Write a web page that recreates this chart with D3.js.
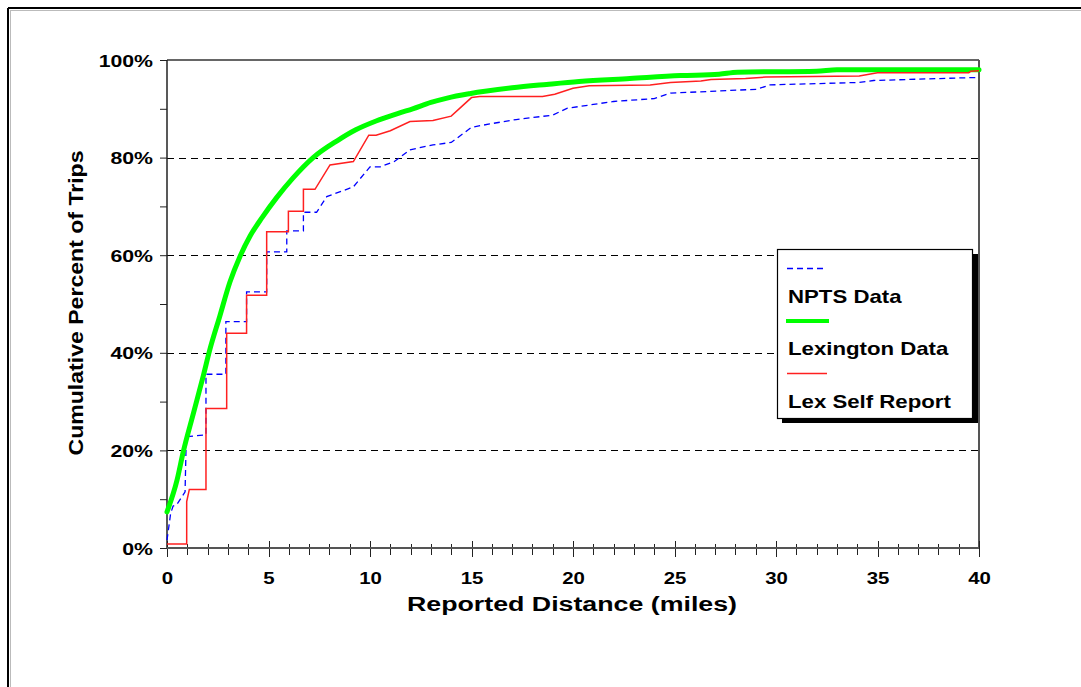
<!DOCTYPE html>
<html>
<head>
<meta charset="utf-8">
<script src="https://cdn.jsdelivr.net/npm/d3@7"></script>
<style>
  html, body { margin: 0; padding: 0; background: #fff; }
  svg { display: block; }
  text { font-family: "Liberation Sans", Arial, sans-serif; font-weight: bold; fill: #000; }
</style>
</head>
<body>
<svg id="chart" width="1081" height="687"></svg>
<script>
// ---- data (miles, cumulative percent) ----
const npts_miles = [0,0.18,0.3,0.47,0.89,0.95,1.92,1.92,2.9,2.9,3.92,3.92,4.91,4.91,5.9,5.9,6.72,6.72,7.37,7.87,9.18,10.0,10.5,11.2,11.97,13.1,14.0,15.0,15.9,17.2,19.0,19.7,22.0,24.0,24.8,25.3,29.05,29.7,34.1,34.8,39.7,40];
const npts_pct   = [1.6,7.1,8.6,8.8,11.5,22.8,23.2,35.6,35.6,46.4,46.4,52.5,52.5,60.7,60.7,65,65,68.8,68.8,72.0,74.0,78.1,78.1,79.2,81.6,82.6,83.1,86.2,86.9,87.8,88.7,90.1,91.5,92.1,93.2,93.3,94.0,94.9,95.4,95.8,96.4,96.4];

const lex_miles = [0,0.5,0.8,1.3,1.8,2.1,2.6,3.1,3.6,4.1,4.7,5.4,6.2,7.2,8.4,9.3,10.3,11.5,12.1,13.0,13.8,14.9,17,18.7,20.3,22.8,25.3,27.2,28.1,32,33,40];
const lex_pct   = [7.4,14,19.7,27.6,35.5,40.5,47.5,54.5,59.8,64.0,67.8,71.8,75.8,80,83.5,85.7,87.5,89.2,90.0,91.3,92.2,93.1,94.3,95,95.6,96.2,96.8,97.1,97.5,97.7,98,98];

const self_miles = [0,0.97,0.97,1.1,1.92,1.92,2.94,2.94,3.92,3.92,4.91,4.91,5.98,5.98,6.72,6.72,7.29,8.03,9.18,9.94,10.3,11.0,11.97,13.1,14.0,15.0,15.4,18.5,19.1,20.0,20.8,23.8,24.8,26.3,26.8,28.5,29.5,34.1,35.0,39.5,39.6,40];
const self_pct   = [0.8,0.8,9.5,12,12,28.6,28.6,44,44,51.8,51.8,64.8,64.8,69,69,73.5,73.5,78.5,79.2,84.6,84.6,85.5,87.4,87.6,88.5,92.3,92.5,92.5,93.0,94.2,94.7,94.9,95.4,95.7,96.0,96.2,96.5,96.7,97.4,97.4,97.7,97.8];

const xTickValues = d3.range(0, 41, 5);
const yTickValues = [0, 20, 40, 60, 80, 100];
const seriesNames = ["NPTS Data", "Lexington Data", "Lex Self Report"];
const xTitle = "Reported Distance (miles)";
const yTitle = "Cumulative Percent of Trips";

// ---- layout ----
const svg = d3.select("#chart");
const PX0 = 167, PX1 = 979, PY0 = 548, PY1 = 60;
const x = d3.scaleLinear().domain([0, 40]).range([PX0, PX1]);
const y = d3.scaleLinear().domain([0, 100]).range([PY0, PY1]);

function widen(sel, k) {
  sel.each(function () {
    const L = this.getComputedTextLength();
    if (L > 0) d3.select(this).attr("textLength", L * k).attr("lengthAdjust", "spacingAndGlyphs");
  });
}

// outer frame
svg.append("line").attr("x1", 8).attr("x2", 1081).attr("y1", 8).attr("y2", 8).attr("stroke", "#000").attr("stroke-width", 2);
svg.append("line").attr("x1", 8).attr("x2", 8).attr("y1", 8).attr("y2", 687).attr("stroke", "#000").attr("stroke-width", 2);
svg.append("line").attr("x1", 10).attr("x2", 1081).attr("y1", 10.5).attr("y2", 10.5).attr("stroke", "#bbb").attr("stroke-width", 1);
svg.append("line").attr("x1", 10.5).attr("x2", 10.5).attr("y1", 10).attr("y2", 687).attr("stroke", "#bbb").attr("stroke-width", 1);

// gridlines
svg.append("g").selectAll("line").data([20, 40, 60, 80]).join("line")
  .attr("x1", PX0).attr("x2", PX1)
  .attr("y1", d => Math.round(y(d)) + 0.5).attr("y2", d => Math.round(y(d)) + 0.5)
  .attr("stroke", "#000").attr("stroke-width", 1).attr("stroke-dasharray", "7,5");

// plot frame (top and right)
svg.append("line").attr("x1", PX0).attr("x2", PX1).attr("y1", PY1).attr("y2", PY1).attr("stroke", "#666").attr("stroke-width", 2);
svg.append("line").attr("x1", PX1).attr("x2", PX1).attr("y1", PY1).attr("y2", PY0).attr("stroke", "#555").attr("stroke-width", 2);

// y axis
const yAxis = d3.axisLeft(y).tickValues(d3.range(0, 101, 10)).tickSize(7).tickPadding(7)
  .tickFormat(d => yTickValues.includes(d) ? d + "%" : "");
const gy = svg.append("g").attr("transform", `translate(${PX0},0)`).call(yAxis);
gy.select(".domain").remove();
gy.selectAll(".tick line").attr("stroke", "#222").attr("stroke-width", 1);
gy.selectAll(".tick text").style("font-size", "17px").attr("dy", "0.36em");
widen(gy.selectAll(".tick text"), 1.25);
svg.append("line").attr("x1", PX0).attr("x2", PX0).attr("y1", PY1).attr("y2", PY0).attr("stroke", "#222").attr("stroke-width", 1.5);

// x axis
const gxt = svg.append("g");
gxt.selectAll("line").data(d3.range(0, 41)).join("line")
  .attr("x1", d => Math.round(x(d)) + 0.5).attr("x2", d => Math.round(x(d)) + 0.5)
  .attr("y1", d => d % 5 === 0 ? PY0 - 7 : PY0 - 4)
  .attr("y2", d => d % 5 === 0 ? PY0 + 9 : PY0 + 7)
  .attr("stroke", "#222").attr("stroke-width", 1);
const xAxis = d3.axisBottom(x).tickValues(xTickValues).tickSize(0).tickPadding(0).tickFormat(d3.format("d"));
const gx = svg.append("g").attr("transform", `translate(0,${PY0})`).call(xAxis);
gx.select(".domain").remove();
gx.selectAll(".tick text").style("font-size", "17px").attr("y", 35.5).attr("dy", 0);
widen(gx.selectAll(".tick text"), 1.2);
svg.append("line").attr("x1", PX0).attr("x2", PX1).attr("y1", PY0).attr("y2", PY0).attr("stroke", "#555").attr("stroke-width", 2);

// series
const line = d3.line().x(d => x(d[0])).y(d => y(d[1]));
const nptsData = npts_miles.map((m, i) => [m, npts_pct[i]]);
const lexData = lex_miles.map((m, i) => [m, lex_pct[i]]);
const selfData = self_miles.map((m, i) => [m, self_pct[i]]);

svg.append("path").datum(nptsData).attr("d", line)
  .attr("fill", "none").attr("stroke", "#0000ff").attr("stroke-width", 1.3).attr("stroke-dasharray", "6,4");
svg.append("path").datum(lexData).attr("d", line.curve(d3.curveMonotoneX))
  .attr("fill", "none").attr("stroke", "#00ff00").attr("stroke-width", 5).attr("stroke-linejoin", "round").attr("stroke-linecap", "round");
line.curve(d3.curveLinear);
svg.append("path").datum(selfData).attr("d", line)
  .attr("fill", "none").attr("stroke", "#ff2020").attr("stroke-width", 1.5);

// titles
const yt = svg.append("text").attr("transform", "translate(83,303) rotate(-90)")
  .attr("text-anchor", "middle").style("font-size", "19.5px").text(yTitle);
yt.attr("textLength", 305).attr("lengthAdjust", "spacingAndGlyphs");
const xt = svg.append("text").attr("x", 572).attr("y", 611)
  .attr("text-anchor", "middle").style("font-size", "20px").text(xTitle);
xt.attr("textLength", 330).attr("lengthAdjust", "spacingAndGlyphs");

// legend
const lg = svg.append("g");
lg.append("rect").attr("x", 782).attr("y", 254).attr("width", 196).attr("height", 169).attr("fill", "#000");
lg.append("rect").attr("x", 777.5).attr("y", 249.5).attr("width", 195).attr("height", 169).attr("fill", "#fff").attr("stroke", "#000").attr("stroke-width", 1.2);
const legendStyles = [
  { stroke: "#0000ff", w: 1.3, dash: "6,4", ly: 268.5, x1: 787, x2: 827 },
  { stroke: "#00ff00", w: 4, dash: null, ly: 321, x1: 786, x2: 829 },
  { stroke: "#ff2020", w: 1.5, dash: null, ly: 373.5, x1: 787, x2: 827 }
];
const textBaselines = [303, 355, 408];
seriesNames.forEach((name, i) => {
  const s = legendStyles[i];
  lg.append("line").attr("x1", s.x1).attr("x2", s.x2).attr("y1", s.ly).attr("y2", s.ly)
    .attr("stroke", s.stroke).attr("stroke-width", s.w).attr("stroke-dasharray", s.dash);
  const t = lg.append("text").attr("x", 788).attr("y", textBaselines[i]).style("font-size", "18.5px").text(name);
  widen(t, 1.2);
});
</script>
</body>
</html>
